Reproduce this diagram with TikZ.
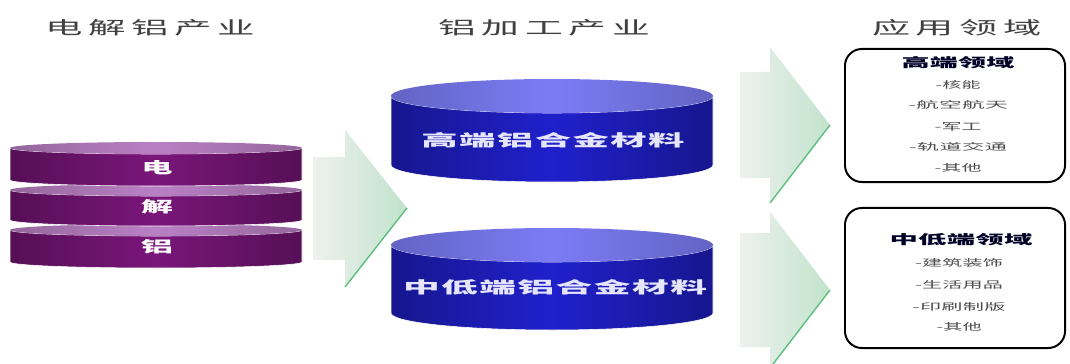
\documentclass[tikz,border=0pt]{standalone}
\usepackage{fontspec}
\usepackage{graphicx}
\setmainfont{Noto Sans CJK SC}
\newfontfamily\cjk{Noto Sans CJK SC}
\newfontfamily\cjkT[LetterSpace=15]{Noto Sans CJK SC}
\newfontfamily\cjkC[LetterSpace=4]{Noto Sans CJK SC}
\newfontfamily\cjkB[LetterSpace=1]{Noto Sans CJK SC}
\usetikzlibrary{shapes.geometric}

\definecolor{titlegray}{HTML}{404040}
\definecolor{discbody}{HTML}{7A167A}
\definecolor{disctop}{HTML}{BA80C4}
\definecolor{cylbody}{HTML}{2020CC}
\definecolor{cyltop}{HTML}{7C7CF6}
\definecolor{flowgreen}{HTML}{A4DAB6}
\definecolor{flowedge}{HTML}{5CBF7E}
\definecolor{flowpale}{HTML}{EEF1EE}

\newlength{\pxl}\setlength{\pxl}{0.025cm}
\newcommand{\fit}[3]{\resizebox{#1\pxl}{#2\pxl}{#3}}

% drum: cx, top y, bottom y, x radius, y radius, body colour, top colour
\newcommand{\drum}[7]{%
  \shade[left color=#6!70!black, right color=#6!70!black, middle color=#6, draw=white, line width=0.4pt]
    ({#1-#4},#2) -- ({#1-#4},#3) arc[start angle=180, end angle=360, x radius=#4, y radius=#5]
    -- ({#1+#4},#2) arc[start angle=360, end angle=180, x radius=#4, y radius=#5] -- cycle;
  \shade[left color=#7!80!black, right color=#7!80!black, middle color=#7]
    (#1,#2) ellipse [x radius=#4, y radius=#5];
}

\tikzstyle{title} = [text=titlegray, font=\cjkT, inner sep=0pt]
\tikzstyle{disclabel} = [text=white, font=\cjk\bfseries, inner sep=0pt]
\tikzstyle{cyllabel} = [text=white!90!blue, font=\cjkC\bfseries, inner sep=0pt]
\tikzstyle{fieldbox} = [draw=black, line width=1.4pt, rounded corners=12pt, minimum width=5.5cm]
\tikzstyle{fieldhead} = [text=black!85!blue, font=\cjkB\bfseries, inner sep=0pt]
\tikzstyle{fielditem} = [text=black!70, font=\cjkB, inner sep=0pt]
\tikzstyle{flow} = [left color=flowpale, middle color=flowgreen, right color=flowgreen!60!flowpale]
\tikzstyle{flowline} = [flowedge, line width=1pt]

\begin{document}
\begin{tikzpicture}[x=0.025cm, y=0.025cm]
    \useasboundingbox (0,0) rectangle (1070,363);

    % column titles
    \node (tsmelt) [title] at (150,335) {\fit{210}{15}{电解铝产业}};
    \node (tproc) [title] at (544,335) {\fit{212}{15}{铝加工产业}};
    \node (tuse) [title] at (957,335) {\fit{170}{15}{应用领域}};

    % electrolytic aluminium stack
    \drum{156}{133}{101}{146}{6}{discbody}{disctop}
    \drum{156}{173}{143}{146}{6}{discbody}{disctop}
    \drum{156}{215}{183}{146}{6}{discbody}{disctop}
    \node (dian) [disclabel] at (157,195) {\fit{31}{13}{电}};
    \node (jie) [disclabel] at (157,156) {\fit{32}{13}{解}};
    \node (lv) [disclabel] at (157,116) {\fit{32}{13}{铝}};

    % processing cylinders
    \drum{552}{267}{198}{161}{17}{cylbody}{cyltop}
    \drum{552}{118}{50}{161}{17}{cylbody}{cyltop}
    \node (hialloy) [cyllabel] at (553,223) {\fit{263}{14}{高端铝合金材料}};
    \node (loalloy) [cyllabel] at (555,76) {\fit{304}{14}{中低端铝合金材料}};

    % flow arrows
    \shade [flow] (313,206) -- (345,206) -- (345,233) -- (407,155) -- (345,76) -- (345,103) -- (313,103) -- cycle;
    \draw [flowline] (345,76) -- (407,155);
    \shade [flow] (740,291) -- (770,291) -- (770,316) -- (830,238) -- (770,160) -- (770,185) -- (740,185) -- cycle;
    \draw [flowline] (770,160) -- (830,238);
    \shade [flow] (740,130) -- (770,130) -- (770,151) -- (830,73) -- (770,-5) -- (770,16) -- (740,16) -- cycle;
    \draw [flowline] (770,-5) -- (830,73);

    % application fields
    \node (hibox) [fieldbox, minimum height=3.325cm] at (955,247.5) {};
    \node (hihead) [fieldhead] at (958,300) {\fit{113}{11}{高端领域}};
    \node (hi1) [fielditem] at (958,278) {\fit{45}{8}{-核能}};
    \node (hi2) [fielditem] at (958,258) {\fit{100}{8}{-航空航天}};
    \node (hi3) [fielditem] at (958,236) {\fit{47}{8}{-军工}};
    \node (hi4) [fielditem] at (958,216) {\fit{98}{8}{-轨道交通}};
    \node (hi5) [fielditem] at (958,195) {\fit{47}{8}{-其他}};

    \node (lobox) [fieldbox, minimum height=3.5cm] at (955,85) {};
    \node (lohead) [fieldhead] at (961,123) {\fit{143}{11}{中低端领域}};
    \node (lo1) [fielditem] at (959,100) {\fit{88}{8}{-建筑装饰}};
    \node (lo2) [fielditem] at (959,78) {\fit{88}{8}{-生活用品}};
    \node (lo3) [fielditem] at (959,56) {\fit{93}{8}{-印刷制版}};
    \node (lo4) [fielditem] at (959,36) {\fit{45}{8}{-其他}};
\end{tikzpicture}
\end{document}
